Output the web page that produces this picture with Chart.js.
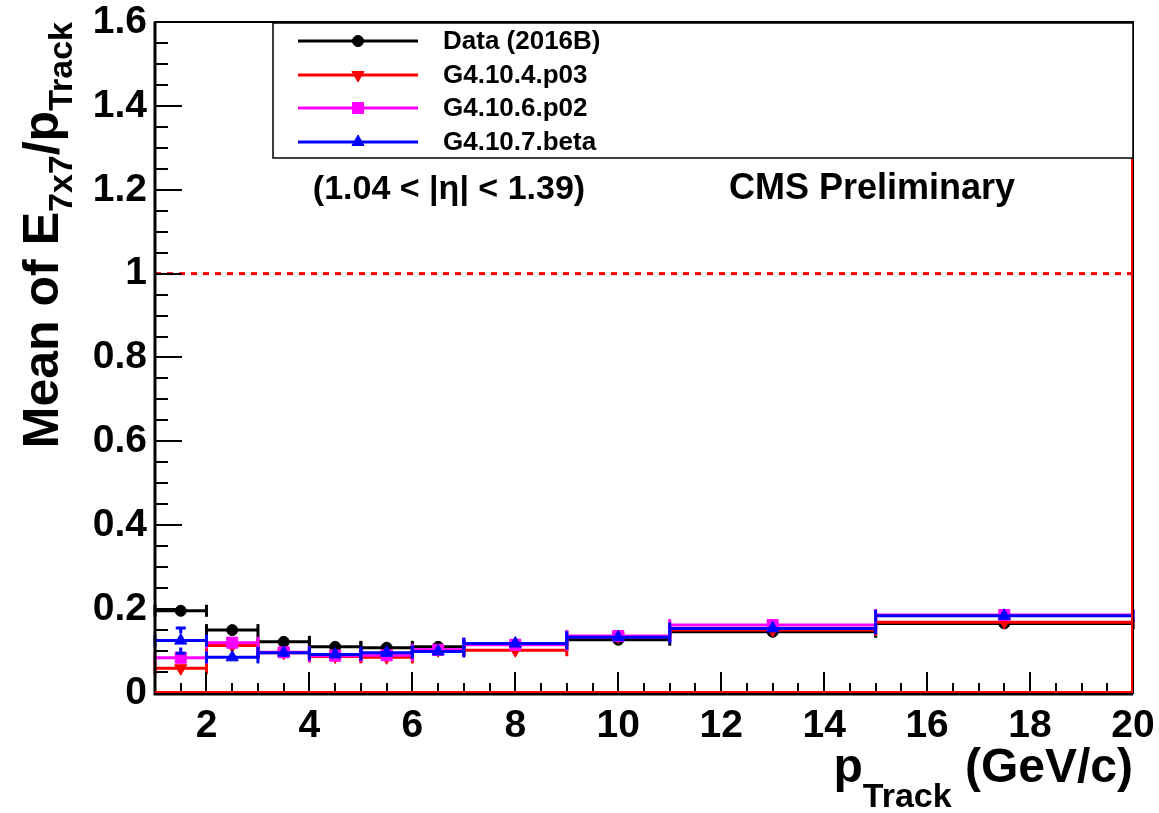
<!DOCTYPE html>
<html>
<head>
<meta charset="utf-8">
<script src="https://cdn.jsdelivr.net/npm/chart.js@4.4.0/dist/chart.umd.min.js"></script>
<style>
  html, body { margin: 0; padding: 0; background: #fff; }
  #wrap { width: 1159px; height: 813px; }
</style>
</head>
<body>
<div id="wrap"><canvas id="chart" width="1159" height="813"></canvas></div>
<script>
// p_Track bins (GeV/c)
var binEdges = [1, 2, 3, 4, 5, 6, 7, 9, 11, 15, 20];

// mean of E7x7/p per bin
var dataVals   = [0.196, 0.150, 0.122, 0.110, 0.108, 0.110, 0.116, 0.127, 0.146, 0.166];
var g4p03Vals  = [0.059, 0.113, 0.096, 0.087, 0.085, 0.102, 0.102, 0.135, 0.150, 0.169];
var g4p02Vals  = [0.084, 0.120, 0.097, 0.089, 0.090, 0.103, 0.115, 0.136, 0.162, 0.186];
var g4betaVals = [0.125, 0.085, 0.096, 0.092, 0.096, 0.099, 0.118, 0.133, 0.154, 0.184];
var g4betaErr  = [0.030, 0.004, 0.003, 0.003, 0.003, 0.003, 0.002, 0.002, 0.002, 0.002];

var seriesNames = ["Data (2016B)", "G4.10.4.p03", "G4.10.6.p02", "G4.10.7.beta"];
var refLevel = 1;

var xTicks = [2, 4, 6, 8, 10, 12, 14, 16, 18, 20];
var xTickLabels = ["2", "4", "6", "8", "10", "12", "14", "16", "18", "20"];
var yTicks = [0, 0.2, 0.4, 0.6, 0.8, 1, 1.2, 1.4, 1.6];
var yTickLabels = ["0", "0.2", "0.4", "0.6", "0.8", "1", "1.2", "1.4", "1.6"];

var FONT = "'Liberation Sans', Arial, Helvetica, sans-serif";

var styles = [
  { color: "#000000", pointStyle: "circle",   rotation: 0,   radius: 5.5 },
  { color: "#ff0000", pointStyle: "triangle", rotation: 180, radius: 7 },
  { color: "#ff00ff", pointStyle: "rect",     rotation: 0,   radius: 7.8 },
  { color: "#0000ff", pointStyle: "triangle", rotation: 0,   radius: 7 }
];
var allVals = [dataVals, g4p03Vals, g4p02Vals, g4betaVals];
var allErrs = [null, null, null, g4betaErr];

// horizontal bars (bin widths), broken between bins
function binSegments(vals) {
  var pts = [];
  for (var i = 0; i < vals.length; i++) {
    pts.push({ x: binEdges[i], y: vals[i] });
    pts.push({ x: binEdges[i + 1], y: vals[i] });
    pts.push({ x: binEdges[i + 1], y: null });
  }
  return pts;
}
function binCenters(vals) {
  return vals.map(function (v, i) {
    return { x: (binEdges[i] + binEdges[i + 1]) / 2, y: v };
  });
}

var datasets = [];
allVals.forEach(function (vals, k) {
  var s = styles[k];
  datasets.push({
    type: "line",
    data: binSegments(vals),
    borderColor: s.color,
    backgroundColor: s.color,
    borderWidth: 3,
    spanGaps: false,
    pointStyle: "line",
    rotation: 90,
    pointRadius: 6,
    pointBorderWidth: 3,
    pointBorderColor: s.color,
    clip: 8,
    order: 8 - 2 * k
  });
  datasets.push({
    type: "scatter",
    data: binCenters(vals),
    pointStyle: s.pointStyle,
    rotation: s.rotation,
    pointRadius: s.radius,
    pointBorderWidth: 1,
    backgroundColor: s.color,
    borderColor: s.color,
    clip: 10,
    order: 7 - 2 * k
  });
});
datasets.push({
  type: "line",
  data: [{ x: binEdges[0], y: refLevel }, { x: binEdges[binEdges.length - 1], y: refLevel }],
  borderColor: "#ff0000",
  borderWidth: 3,
  borderDash: [6, 6],
  pointRadius: 0,
  order: 20
});

function drawRich(ctx, parts, x, y) {
  parts.forEach(function (p) {
    ctx.font = "bold " + p.size + "px " + FONT;
    ctx.fillText(p.t, x, y + (p.dy || 0));
    x += ctx.measureText(p.t).width;
  });
}
function richWidth(ctx, parts) {
  var w = 0;
  parts.forEach(function (p) {
    ctx.font = "bold " + p.size + "px " + FONT;
    w += ctx.measureText(p.t).width;
  });
  return w;
}

var rootDecor = {
  id: "rootDecor",
  afterDatasetsDraw: function (chart) {
    var ctx = chart.ctx, a = chart.chartArea;
    var xs = chart.scales.x, ys = chart.scales.y;
    ctx.save();

    // vertical error bars where they leave the marker
    allErrs.forEach(function (errs, k) {
      if (!errs) return;
      var s = styles[k];
      ctx.strokeStyle = s.color;
      ctx.lineWidth = 3;
      allVals[k].forEach(function (v, i) {
        var px = xs.getPixelForValue((binEdges[i] + binEdges[i + 1]) / 2);
        var hi = ys.getPixelForValue(v + errs[i]);
        var lo = ys.getPixelForValue(v - errs[i]);
        var c = ys.getPixelForValue(v);
        if (c - hi <= s.radius + 1) return;
        ctx.beginPath();
        ctx.moveTo(px, hi); ctx.lineTo(px, c - s.radius);
        ctx.moveTo(px, c + s.radius); ctx.lineTo(px, lo);
        ctx.moveTo(px - 5, hi); ctx.lineTo(px + 5, hi);
        ctx.moveTo(px - 5, lo); ctx.lineTo(px + 5, lo);
        ctx.stroke();
      });
    });

    // frame
    ctx.strokeStyle = "#000";
    ctx.lineWidth = 2;
    ctx.strokeRect(a.left, a.top, a.right - a.left, a.bottom - a.top);
    ctx.lineWidth = 3;
    ctx.beginPath();
    ctx.moveTo(a.left, a.top); ctx.lineTo(a.left, a.bottom + 1);
    ctx.lineTo(a.right, a.bottom + 1);
    ctx.stroke();

    // inner ticks
    ctx.lineWidth = 2;
    ctx.beginPath();
    for (var v = xs.min; v <= xs.max + 1e-9; v += 0.5) {
      var px = Math.round(xs.getPixelForValue(v));
      var len = (Math.abs(v / 2 - Math.round(v / 2)) < 1e-9) ? 21 : 10;
      ctx.moveTo(px, a.bottom); ctx.lineTo(px, a.bottom - len);
    }
    for (var w = ys.min; w <= ys.max + 1e-9; w += 0.05) {
      var py = Math.round(ys.getPixelForValue(w));
      var l2 = (Math.abs(w / 0.2 - Math.round(w / 0.2)) < 1e-6) ? 27 : 13;
      ctx.moveTo(a.left, py); ctx.lineTo(a.left + l2, py);
    }
    ctx.stroke();

    // red histogram edges along bottom and right
    ctx.strokeStyle = "#ff0000";
    ctx.lineWidth = 2;
    ctx.beginPath();
    ctx.moveTo(a.left, a.bottom - 1); ctx.lineTo(a.right - 1, a.bottom - 1);
    ctx.lineTo(a.right - 1, a.top);
    ctx.stroke();

    // legend
    var lx = 273, ly = a.top + 1, lw = a.right - 273, lh = 135;
    ctx.fillStyle = "#fff";
    ctx.fillRect(lx, ly, lw, lh);
    ctx.strokeStyle = "#000";
    ctx.lineWidth = 1.5;
    ctx.strokeRect(lx, ly, lw, lh);
    var rowY = [41, 75, 108, 142];
    seriesNames.forEach(function (name, k) {
      var s = styles[k], y = rowY[k];
      ctx.strokeStyle = s.color;
      ctx.fillStyle = s.color;
      ctx.lineWidth = 3;
      ctx.beginPath();
      ctx.moveTo(298, y); ctx.lineTo(418, y);
      ctx.stroke();
      ctx.lineWidth = 1;
      Chart.helpers.drawPoint(ctx, { pointStyle: s.pointStyle, rotation: s.rotation, radius: s.radius, borderWidth: 1 }, 358, y);
      ctx.fillStyle = "#000";
      ctx.font = "bold 26px " + FONT;
      ctx.textAlign = "left";
      ctx.textBaseline = "middle";
      ctx.fillText(name, 443, y + 1);
    });

    // annotations
    ctx.fillStyle = "#000";
    ctx.textBaseline = "alphabetic";
    ctx.textAlign = "center";
    ctx.font = "bold 34px " + FONT;
    ctx.fillText("(1.04 < |\u03b7| < 1.39)", 449, 199);
    ctx.font = "bold 36px " + FONT;
    ctx.fillText("CMS Preliminary", 872, 199);
    ctx.restore();
  },
  afterDraw: function (chart) {
    var ctx = chart.ctx, a = chart.chartArea;
    ctx.save();
    ctx.fillStyle = "#000";
    ctx.textAlign = "left";
    ctx.textBaseline = "alphabetic";

    // x title, right aligned
    var xParts = [
      { t: "p", size: 48 },
      { t: "Track", size: 34, dy: 25 },
      { t: " (GeV/c)", size: 48 }
    ];
    var xw = richWidth(ctx, xParts);
    drawRich(ctx, xParts, a.right - xw, 782);

    // y title, rotated, right aligned at top
    var yParts = [
      { t: "Mean of E", size: 50 },
      { t: "7x7", size: 34, dy: 14 },
      { t: "/p", size: 50 },
      { t: "Track", size: 34, dy: 14 }
    ];
    var yw = richWidth(ctx, yParts);
    ctx.translate(58, a.top);
    ctx.rotate(-Math.PI / 2);
    drawRich(ctx, yParts, -yw, 0);
    ctx.restore();
  }
};

var tickFont = { family: FONT, weight: "bold", size: 39 };

function noPad(ax) {
  ax.paddingLeft = 0; ax.paddingRight = 0; ax.paddingTop = 0; ax.paddingBottom = 0;
}

new Chart(document.getElementById("chart"), {
  data: { datasets: datasets },
  options: {
    responsive: false,
    animation: false,
    layout: { padding: { left: 0, right: 26, top: 22, bottom: 0 } },
    plugins: { legend: { display: false }, tooltip: { enabled: false } },
    scales: {
      x: {
        type: "linear",
        min: 1,
        max: 20,
        grid: { display: false, drawTicks: false },
        border: { display: false },
        ticks: {
          font: tickFont,
          color: "#000",
          padding: 10,
          maxRotation: 0,
          autoSkip: false,
          callback: function (v, i) { return xTickLabels[i]; }
        },
        afterBuildTicks: function (ax) { ax.ticks = xTicks.map(function (v) { return { value: v }; }); },
        afterFit: function (ax) { ax.height = 120; noPad(ax); }
      },
      y: {
        type: "linear",
        min: 0,
        max: 1.6,
        grid: { display: false, drawTicks: false },
        border: { display: false },
        ticks: {
          font: tickFont,
          color: "#000",
          padding: 8,
          autoSkip: false,
          callback: function (v, i) { return yTickLabels[i]; }
        },
        afterBuildTicks: function (ax) { ax.ticks = yTicks.map(function (v) { return { value: v }; }); },
        afterFit: function (ax) { ax.width = 155; noPad(ax); }
      }
    }
  },
  plugins: [rootDecor]
});
</script>
</body>
</html>
